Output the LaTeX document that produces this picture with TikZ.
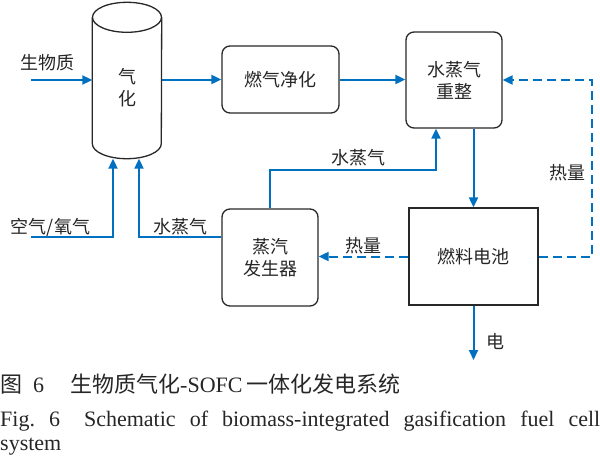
\documentclass[tikz,border=0pt]{standalone}
\usepackage{fontspec}
\setmainfont{Liberation Serif}
\newfontfamily\cjk{Noto Sans CJK SC}
\usepackage{tikz}
\usetikzlibrary{arrows.meta}
\usetikzlibrary{positioning}
\usetikzlibrary{calc}
\definecolor{flowblue}{RGB}{0,112,192}
\definecolor{edgegray}{RGB}{40,40,40}

\begin{document}
\begin{tikzpicture}[
        x=1pt,
        y=-1pt,
        every node/.style={
            text=black!85,
            font=\cjk\fontsize{18}{22}\selectfont
        },
        block/.style={
            rectangle,
            draw=edgegray,
            line width=1.3pt,
            rounded corners=8pt,
            align=center,
            inner sep=0pt
        },
        cell/.style={
            block,
            rounded corners=0pt
        },
        vessel/.style={
            draw=edgegray,
            line width=1.3pt
        },
        line/.style={
            draw=flowblue,
            line width=2pt,
            -{Triangle[length=10pt,width=9pt]}
        },
        heatline/.style={
            line,
            dash pattern=on 9pt off 5pt
        },
        ]

        \useasboundingbox (0,0) rectangle (600,458);

        \node [align=center, inner sep=0pt, minimum width=69pt, minimum height=141pt] (gasifier) at (127,88) {气\\化};
        \node [block, minimum width=117pt, minimum height=67pt] (gas-cleaning) at (280.5,79.5) {燃气净化};
        \node [block, minimum width=96pt, minimum height=96pt] (steam-reforming) at (454,80) {水蒸气\\重整};
        \node [cell, minimum width=129pt, minimum height=97pt] (fuel-cell) at (473.5,256.5) {燃料电池};
        \node [block, minimum width=96pt, minimum height=97pt] (steam-generator) at (270,257.5) {蒸汽\\发生器};

        % gasifier vessel
        \path [vessel] (gasifier.north) ellipse [x radius=34.5, y radius=15];
        \path [vessel] (gasifier.north west) -- ($(gasifier.south west)+(0,-15)$)
            arc [start angle=180, end angle=0, x radius=34.5, y radius=15] -- (gasifier.north east);

        \coordinate (biomass-in) at (31,80);
        \coordinate (air-in) at (31,237);
        \coordinate (air-knee) at (113,237);
        \coordinate (steam-knee-left) at (139,237);
        \coordinate (steam-knee) at (436,170);
        \coordinate (heat-corner) at (592,80);
        \coordinate (power-out) at (473.5,360);

        \node (biomass) at (47,63) {生物质};
        \node (air) at (50.5,227) {空气/氧气};
        \node (steam-left) at (180.5,227) {水蒸气};
        \node (steam-up) at (358.5,158) {水蒸气};
        \node (heat-left) at (363.5,246) {热量};
        \node [anchor=east] (heat-up) at (589,173) {热量};
        \node (power) at (495,342) {电};

        \path [line] (biomass-in) -- (biomass-in -| gasifier.west);
        \path [line] (gasifier.east |- gas-cleaning.west) -- (gas-cleaning.west);
        \path [line] (gas-cleaning.east) -- (gas-cleaning.east -| steam-reforming.west);
        \path [line] (steam-reforming.south -| fuel-cell.north) -- (fuel-cell.north);
        \path [line] (fuel-cell.south) -- (power-out);
        \path [heatline] (fuel-cell.east) -| (heat-corner) -- (steam-reforming.east);
        \path [heatline] (fuel-cell.west) -- (fuel-cell.west -| steam-generator.east);
        \path [line] (steam-generator.north) |- (steam-knee) -- (steam-knee |- steam-reforming.south);
        \path [line] (steam-knee-left -| steam-generator.west) -- (steam-knee-left) -- (steam-knee-left |- gasifier.south);
        \path [line] (air-in) -- (air-knee) -- (air-knee |- gasifier.south);

        % caption
        \node [anchor=base west, inner sep=0pt, font=\fontsize{22}{24}\selectfont] (caption-cn) at (0,392)
            {{\cjk 图}\hspace{11pt}6\hspace{26pt}{\cjk 生物质气化}-SOFC\hspace{4pt}{\cjk 一体化发电系统}};
        \node [anchor=north west, inner sep=0pt, text width=600pt, align=justify, font=\fontsize{22}{24}\selectfont] (caption-en) at (0,410.5)
            {Fig.~6\hspace{24pt}Schematic of biomass-integrated gasification fuel cell\linebreak system};
\end{tikzpicture}
\end{document}
